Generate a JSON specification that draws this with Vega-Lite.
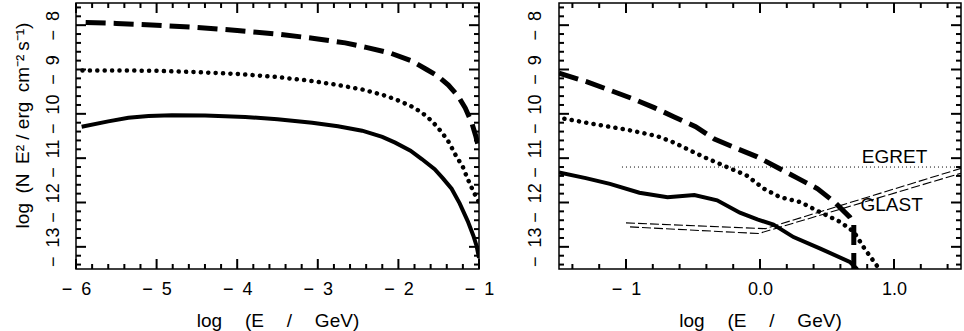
{
  "$schema": "https://vega.github.io/schema/vega-lite/v6.json",
  "padding": {"left": 12, "top": 1, "right": 0, "bottom": 0},
  "autosize": {"type": "pad"},
  "background": "white",
  "config": {
    "view": {"stroke": "black", "strokeWidth": 1.5},
    "axis": {
      "grid": false, "domain": false, "ticks": false,
      "labelFont": "Liberation Sans", "labelFontSize": 18, "labelColor": "black",
      "titleFont": "Liberation Sans", "titleFontSize": 19, "titleFontWeight": "normal", "titleColor": "black",
      "labelFlush": false, "labelOverlap": false
    }
  },
  "datasets": {
    "L": [
      {"s":"dash","i":0,"x":-5.88,"y":-7.94},{"s":"dash","i":1,"x":-5.5,"y":-7.96},{"s":"dash","i":2,"x":-5.0,"y":-8.0},{"s":"dash","i":3,"x":-4.5,"y":-8.05},{"s":"dash","i":4,"x":-4.0,"y":-8.12},{"s":"dash","i":5,"x":-3.5,"y":-8.2},{"s":"dash","i":6,"x":-3.0,"y":-8.31},{"s":"dash","i":7,"x":-2.66,"y":-8.4},{"s":"dash","i":8,"x":-2.4,"y":-8.5},{"s":"dash","i":9,"x":-2.1,"y":-8.63},{"s":"dash","i":10,"x":-1.83,"y":-8.81},{"s":"dash","i":11,"x":-1.65,"y":-9.0},{"s":"dash","i":12,"x":-1.51,"y":-9.15},{"s":"dash","i":13,"x":-1.38,"y":-9.35},{"s":"dash","i":14,"x":-1.26,"y":-9.6},{"s":"dash","i":15,"x":-1.17,"y":-9.87},{"s":"dash","i":16,"x":-1.09,"y":-10.2},{"s":"dash","i":17,"x":-1.04,"y":-10.5},{"s":"dash","i":18,"x":-1.0,"y":-10.8},
      {"s":"dot","i":0,"x":-5.92,"y":-9.02},{"s":"dot","i":1,"x":-5.5,"y":-9.02},{"s":"dot","i":2,"x":-5.0,"y":-9.03},{"s":"dot","i":3,"x":-4.5,"y":-9.06},{"s":"dot","i":4,"x":-4.0,"y":-9.1},{"s":"dot","i":5,"x":-3.5,"y":-9.17},{"s":"dot","i":6,"x":-3.07,"y":-9.26},{"s":"dot","i":7,"x":-2.75,"y":-9.35},{"s":"dot","i":8,"x":-2.45,"y":-9.45},{"s":"dot","i":9,"x":-2.2,"y":-9.57},{"s":"dot","i":10,"x":-2.04,"y":-9.67},{"s":"dot","i":11,"x":-1.85,"y":-9.82},{"s":"dot","i":12,"x":-1.71,"y":-9.97},{"s":"dot","i":13,"x":-1.58,"y":-10.17},{"s":"dot","i":14,"x":-1.46,"y":-10.42},{"s":"dot","i":15,"x":-1.37,"y":-10.65},{"s":"dot","i":16,"x":-1.3,"y":-10.9},{"s":"dot","i":17,"x":-1.2,"y":-11.2},{"s":"dot","i":18,"x":-1.14,"y":-11.47},{"s":"dot","i":19,"x":-1.07,"y":-11.75},{"s":"dot","i":20,"x":-1.0,"y":-12.0},
      {"s":"solid","i":0,"x":-5.93,"y":-10.29},{"s":"solid","i":1,"x":-5.6,"y":-10.17},{"s":"solid","i":2,"x":-5.35,"y":-10.09},{"s":"solid","i":3,"x":-5.1,"y":-10.05},{"s":"solid","i":4,"x":-4.81,"y":-10.03},{"s":"solid","i":5,"x":-4.4,"y":-10.04},{"s":"solid","i":6,"x":-3.9,"y":-10.07},{"s":"solid","i":7,"x":-3.5,"y":-10.12},{"s":"solid","i":8,"x":-3.07,"y":-10.2},{"s":"solid","i":9,"x":-2.75,"y":-10.28},{"s":"solid","i":10,"x":-2.45,"y":-10.38},{"s":"solid","i":11,"x":-2.2,"y":-10.52},{"s":"solid","i":12,"x":-2.04,"y":-10.65},{"s":"solid","i":13,"x":-1.85,"y":-10.83},{"s":"solid","i":14,"x":-1.71,"y":-11.02},{"s":"solid","i":15,"x":-1.55,"y":-11.25},{"s":"solid","i":16,"x":-1.45,"y":-11.45},{"s":"solid","i":17,"x":-1.34,"y":-11.69},{"s":"solid","i":18,"x":-1.24,"y":-12.02},{"s":"solid","i":19,"x":-1.14,"y":-12.42},{"s":"solid","i":20,"x":-1.07,"y":-12.75},{"s":"solid","i":21,"x":-1.03,"y":-12.98},{"s":"solid","i":22,"x":-1.0,"y":-13.25}
    ],
    "R": [
      {"s":"dash","i":0,"x":-1.5,"y":-9.08},{"s":"dash","i":1,"x":-1.29,"y":-9.28},{"s":"dash","i":2,"x":-1.1,"y":-9.49},{"s":"dash","i":3,"x":-0.94,"y":-9.67},{"s":"dash","i":4,"x":-0.79,"y":-9.86},{"s":"dash","i":5,"x":-0.64,"y":-10.07},{"s":"dash","i":6,"x":-0.48,"y":-10.29},{"s":"dash","i":7,"x":-0.34,"y":-10.57},{"s":"dash","i":8,"x":-0.19,"y":-10.76},{"s":"dash","i":9,"x":-0.02,"y":-10.97},{"s":"dash","i":10,"x":0.13,"y":-11.21},{"s":"dash","i":11,"x":0.28,"y":-11.45},{"s":"dash","i":12,"x":0.43,"y":-11.69},{"s":"dash","i":13,"x":0.56,"y":-12.0},{"s":"dash","i":14,"x":0.67,"y":-12.33},{"s":"dash","i":15,"x":0.7,"y":-12.5},{"s":"dash","i":16,"x":0.7,"y":-13.6},
      {"s":"dot","i":0,"x":-1.46,"y":-10.11},{"s":"dot","i":1,"x":-1.24,"y":-10.23},{"s":"dot","i":2,"x":-0.99,"y":-10.36},{"s":"dot","i":3,"x":-0.77,"y":-10.5},{"s":"dot","i":4,"x":-0.64,"y":-10.65},{"s":"dot","i":5,"x":-0.52,"y":-10.83},{"s":"dot","i":6,"x":-0.4,"y":-11.0},{"s":"dot","i":7,"x":-0.27,"y":-11.17},{"s":"dot","i":8,"x":-0.1,"y":-11.39},{"s":"dot","i":9,"x":0.03,"y":-11.69},{"s":"dot","i":10,"x":0.15,"y":-11.88},{"s":"dot","i":11,"x":0.3,"y":-11.99},{"s":"dot","i":12,"x":0.45,"y":-12.22},{"s":"dot","i":13,"x":0.6,"y":-12.44},{"s":"dot","i":14,"x":0.7,"y":-12.66},{"s":"dot","i":15,"x":0.78,"y":-13.04},{"s":"dot","i":16,"x":0.89,"y":-13.5},{"s":"dot","i":17,"x":0.92,"y":-13.6},
      {"s":"solid","i":0,"x":-1.5,"y":-11.32},{"s":"solid","i":1,"x":-1.3,"y":-11.45},{"s":"solid","i":2,"x":-1.12,"y":-11.58},{"s":"solid","i":3,"x":-0.9,"y":-11.78},{"s":"solid","i":4,"x":-0.69,"y":-11.88},{"s":"solid","i":5,"x":-0.49,"y":-11.83},{"s":"solid","i":6,"x":-0.32,"y":-11.95},{"s":"solid","i":7,"x":-0.15,"y":-12.23},{"s":"solid","i":8,"x":-0.02,"y":-12.38},{"s":"solid","i":9,"x":0.1,"y":-12.5},{"s":"solid","i":10,"x":0.25,"y":-12.78},{"s":"solid","i":11,"x":0.45,"y":-13.04},{"s":"solid","i":12,"x":0.67,"y":-13.34},{"s":"solid","i":13,"x":0.72,"y":-13.49},{"s":"solid","i":14,"x":0.74,"y":-13.6},
      {"s":"egret","i":0,"x":-1.03,"y":-11.2},{"s":"egret","i":1,"x":1.5,"y":-11.2},
      {"s":"glast1","i":0,"x":-1.0,"y":-12.46},{"s":"glast1","i":1,"x":0.04,"y":-12.59},{"s":"glast1","i":2,"x":1.5,"y":-11.23},
      {"s":"glast2","i":0,"x":-0.97,"y":-12.55},{"s":"glast2","i":1,"x":-0.01,"y":-12.7},{"s":"glast2","i":2,"x":1.5,"y":-11.34}
    ],
    "T": [
      {"label":"EGRET","x":0.76,"y":-11.12},
      {"label":"GLAST","x":0.75,"y":-12.19}
    ],
    "TLX": [
      {"v":-6,"k":"major"},{"v":-5.8,"k":"minor"},{"v":-5.6,"k":"minor"},{"v":-5.4,"k":"minor"},{"v":-5.2,"k":"minor"},
      {"v":-5,"k":"major"},{"v":-4.8,"k":"minor"},{"v":-4.6,"k":"minor"},{"v":-4.4,"k":"minor"},{"v":-4.2,"k":"minor"},
      {"v":-4,"k":"major"},{"v":-3.8,"k":"minor"},{"v":-3.6,"k":"minor"},{"v":-3.4,"k":"minor"},{"v":-3.2,"k":"minor"},
      {"v":-3,"k":"major"},{"v":-2.8,"k":"minor"},{"v":-2.6,"k":"minor"},{"v":-2.4,"k":"minor"},{"v":-2.2,"k":"minor"},
      {"v":-2,"k":"major"},{"v":-1.8,"k":"minor"},{"v":-1.6,"k":"minor"},{"v":-1.4,"k":"minor"},{"v":-1.2,"k":"minor"},
      {"v":-1,"k":"major"}
    ],
    "TRX": [
      {"v":-1.4,"k":"minor"},{"v":-1.2,"k":"minor"},{"v":-1,"k":"major"},{"v":-0.8,"k":"minor"},{"v":-0.6,"k":"minor"},{"v":-0.4,"k":"minor"},{"v":-0.2,"k":"minor"},
      {"v":0,"k":"major"},{"v":0.2,"k":"minor"},{"v":0.4,"k":"minor"},{"v":0.6,"k":"minor"},{"v":0.8,"k":"minor"},
      {"v":1,"k":"major"},{"v":1.2,"k":"minor"},{"v":1.4,"k":"minor"}
    ],
    "TY": [
      {"v":-13.4,"k":"minor"},{"v":-13.2,"k":"minor"},{"v":-13,"k":"major"},{"v":-12.8,"k":"minor"},{"v":-12.6,"k":"minor"},{"v":-12.4,"k":"minor"},{"v":-12.2,"k":"minor"},
      {"v":-12,"k":"major"},{"v":-11.8,"k":"minor"},{"v":-11.6,"k":"minor"},{"v":-11.4,"k":"minor"},{"v":-11.2,"k":"minor"},
      {"v":-11,"k":"major"},{"v":-10.8,"k":"minor"},{"v":-10.6,"k":"minor"},{"v":-10.4,"k":"minor"},{"v":-10.2,"k":"minor"},
      {"v":-10,"k":"major"},{"v":-9.8,"k":"minor"},{"v":-9.6,"k":"minor"},{"v":-9.4,"k":"minor"},{"v":-9.2,"k":"minor"},
      {"v":-9,"k":"major"},{"v":-8.8,"k":"minor"},{"v":-8.6,"k":"minor"},{"v":-8.4,"k":"minor"},{"v":-8.2,"k":"minor"},
      {"v":-8,"k":"major"},{"v":-7.8,"k":"minor"},{"v":-7.6,"k":"minor"}
    ]
  },
  "spacing": 30,
  "hconcat": [
    {
      "width": 403, "height": 266,
      "layer": [
        {
          "data": {"name": "L"},
          "transform": [{"filter": "datum.s === 'solid'"}],
          "mark": {"type": "line", "color": "black", "strokeWidth": 4, "clip": true},
          "encoding": {
            "x": {"field": "x", "type": "quantitative", "scale": {"domain": [-6, -1], "nice": false, "zero": false},
                  "axis": {"orient": "bottom", "values": [-6,-5,-4,-3,-2,-1], "labelPadding": 11, "labelExpr": "datum.value < 0 ? '\u2212\u2002' + format(-datum.value, 'd') : datum.label", "title": "log\u2003\u2009(E\u2003\u2009/\u2003\u2009GeV)", "titlePadding": 13}},
            "y": {"field": "y", "type": "quantitative", "scale": {"domain": [-13.5, -7.5], "nice": false, "zero": false},
                  "axis": {"orient": "left", "values": [-13,-12,-11,-10,-9,-8], "labelPadding": 14, "labelAngle": -90, "labelAlign": "center", "labelBaseline": "bottom", "labelExpr": "datum.value < 0 ? '\u2212\u2002' + format(-datum.value, 'd') : datum.label", "title": "log\u2002(N\u2002E² / erg\u2002cm⁻²\u2009s⁻¹)", "titlePadding": 12, "titleY": 122}},
            "order": {"field": "i", "type": "quantitative"}
          }
        },
        {
          "data": {"name": "L"},
          "transform": [{"filter": "datum.s === 'dot'"}],
          "mark": {"type": "line", "color": "black", "strokeWidth": 4.5, "strokeDash": [0.1, 7.3], "strokeCap": "round", "clip": true},
          "encoding": {
            "x": {"field": "x", "type": "quantitative"},
            "y": {"field": "y", "type": "quantitative"},
            "order": {"field": "i", "type": "quantitative"}
          }
        },
        {
          "data": {"name": "L"},
          "transform": [{"filter": "datum.s === 'dash'"}],
          "mark": {"type": "line", "color": "black", "strokeWidth": 5, "strokeDash": [20, 8], "clip": true},
          "encoding": {
            "x": {"field": "x", "type": "quantitative"},
            "y": {"field": "y", "type": "quantitative"},
            "order": {"field": "i", "type": "quantitative"}
          }
        },
        {"data": {"name": "TLX"}, "transform": [{"filter": "datum.k === 'major'"}], "mark": {"type": "rule", "color": "black", "strokeWidth": 2},
         "encoding": {"x": {"field": "v", "type": "quantitative"}, "y": {"datum": -13.5, "type": "quantitative"}, "y2": {"datum": -13.274}}},
        {"data": {"name": "TLX"}, "transform": [{"filter": "datum.k === 'minor'"}], "mark": {"type": "rule", "color": "black", "strokeWidth": 2},
         "encoding": {"x": {"field": "v", "type": "quantitative"}, "y": {"datum": -13.5, "type": "quantitative"}, "y2": {"datum": -13.387}}},
        {"data": {"name": "TLX"}, "transform": [{"filter": "datum.k === 'major'"}], "mark": {"type": "rule", "color": "black", "strokeWidth": 2},
         "encoding": {"x": {"field": "v", "type": "quantitative"}, "y": {"datum": -7.5, "type": "quantitative"}, "y2": {"datum": -7.726}}},
        {"data": {"name": "TLX"}, "transform": [{"filter": "datum.k === 'minor'"}], "mark": {"type": "rule", "color": "black", "strokeWidth": 2},
         "encoding": {"x": {"field": "v", "type": "quantitative"}, "y": {"datum": -7.5, "type": "quantitative"}, "y2": {"datum": -7.613}}},
        {"data": {"name": "TY"}, "transform": [{"filter": "datum.k === 'major'"}], "mark": {"type": "rule", "color": "black", "strokeWidth": 2},
         "encoding": {"y": {"field": "v", "type": "quantitative"}, "x": {"datum": -6, "type": "quantitative"}, "x2": {"datum": -5.876}}},
        {"data": {"name": "TY"}, "transform": [{"filter": "datum.k === 'minor'"}], "mark": {"type": "rule", "color": "black", "strokeWidth": 2},
         "encoding": {"y": {"field": "v", "type": "quantitative"}, "x": {"datum": -6, "type": "quantitative"}, "x2": {"datum": -5.938}}},
        {"data": {"name": "TY"}, "transform": [{"filter": "datum.k === 'major'"}], "mark": {"type": "rule", "color": "black", "strokeWidth": 2},
         "encoding": {"y": {"field": "v", "type": "quantitative"}, "x": {"datum": -1, "type": "quantitative"}, "x2": {"datum": -1.124}}},
        {"data": {"name": "TY"}, "transform": [{"filter": "datum.k === 'minor'"}], "mark": {"type": "rule", "color": "black", "strokeWidth": 2},
         "encoding": {"y": {"field": "v", "type": "quantitative"}, "x": {"datum": -1, "type": "quantitative"}, "x2": {"datum": -1.062}}}
      ]
    },
    {
      "width": 402, "height": 266,
      "layer": [
        {
          "data": {"name": "R"},
          "transform": [{"filter": "datum.s === 'solid'"}],
          "mark": {"type": "line", "color": "black", "strokeWidth": 4, "clip": true},
          "encoding": {
            "x": {"field": "x", "type": "quantitative", "scale": {"domain": [-1.5, 1.5], "nice": false, "zero": false},
                  "axis": {"orient": "bottom", "values": [-1,0,1], "labelPadding": 11, "labelExpr": "datum.value < 0 ? '\u2212\u2002' + format(-datum.value, 'd') : datum.label", "title": "log\u2003\u2009(E\u2003\u2009/\u2003\u2009GeV)", "titlePadding": 13}},
            "y": {"field": "y", "type": "quantitative", "scale": {"domain": [-13.5, -7.5], "nice": false, "zero": false},
                  "axis": {"orient": "left", "values": [-13,-12,-11,-10,-9,-8], "labelPadding": 15, "labelAngle": -90, "labelAlign": "center", "labelBaseline": "bottom", "labelExpr": "datum.value < 0 ? '\u2212\u2002' + format(-datum.value, 'd') : datum.label", "title": null}},
            "order": {"field": "i", "type": "quantitative"}
          }
        },
        {
          "data": {"name": "R"},
          "transform": [{"filter": "datum.s === 'dot'"}],
          "mark": {"type": "line", "color": "black", "strokeWidth": 4.5, "strokeDash": [0.1, 7.3], "strokeCap": "round", "clip": true},
          "encoding": {
            "x": {"field": "x", "type": "quantitative"},
            "y": {"field": "y", "type": "quantitative"},
            "order": {"field": "i", "type": "quantitative"}
          }
        },
        {
          "data": {"name": "R"},
          "transform": [{"filter": "datum.s === 'dash'"}],
          "mark": {"type": "line", "color": "black", "strokeWidth": 5, "strokeDash": [20, 8], "clip": true},
          "encoding": {
            "x": {"field": "x", "type": "quantitative"},
            "y": {"field": "y", "type": "quantitative"},
            "order": {"field": "i", "type": "quantitative"}
          }
        },
        {
          "data": {"name": "R"},
          "transform": [{"filter": "datum.s === 'egret'"}],
          "mark": {"type": "line", "color": "black", "strokeWidth": 1, "strokeDash": [1, 3], "clip": true},
          "encoding": {
            "x": {"field": "x", "type": "quantitative"},
            "y": {"field": "y", "type": "quantitative"},
            "order": {"field": "i", "type": "quantitative"}
          }
        },
        {
          "data": {"name": "R"},
          "transform": [{"filter": "datum.s === 'glast1' || datum.s === 'glast2'"}],
          "mark": {"type": "line", "color": "black", "strokeWidth": 1.1, "strokeDash": [9, 3], "clip": true},
          "encoding": {
            "x": {"field": "x", "type": "quantitative"},
            "y": {"field": "y", "type": "quantitative"},
            "detail": {"field": "s"},
            "order": {"field": "i", "type": "quantitative"}
          }
        },
        {
          "data": {"name": "T"},
          "mark": {"type": "text", "font": "Liberation Sans", "fontSize": 19, "align": "left", "baseline": "alphabetic", "color": "black"},
          "encoding": {
            "x": {"field": "x", "type": "quantitative"},
            "y": {"field": "y", "type": "quantitative"},
            "text": {"field": "label"}
          }
        },
        {"data": {"name": "TRX"}, "transform": [{"filter": "datum.k === 'major'"}], "mark": {"type": "rule", "color": "black", "strokeWidth": 2},
         "encoding": {"x": {"field": "v", "type": "quantitative"}, "y": {"datum": -13.5, "type": "quantitative"}, "y2": {"datum": -13.274}}},
        {"data": {"name": "TRX"}, "transform": [{"filter": "datum.k === 'minor'"}], "mark": {"type": "rule", "color": "black", "strokeWidth": 2},
         "encoding": {"x": {"field": "v", "type": "quantitative"}, "y": {"datum": -13.5, "type": "quantitative"}, "y2": {"datum": -13.387}}},
        {"data": {"name": "TRX"}, "transform": [{"filter": "datum.k === 'major'"}], "mark": {"type": "rule", "color": "black", "strokeWidth": 2},
         "encoding": {"x": {"field": "v", "type": "quantitative"}, "y": {"datum": -7.5, "type": "quantitative"}, "y2": {"datum": -7.726}}},
        {"data": {"name": "TRX"}, "transform": [{"filter": "datum.k === 'minor'"}], "mark": {"type": "rule", "color": "black", "strokeWidth": 2},
         "encoding": {"x": {"field": "v", "type": "quantitative"}, "y": {"datum": -7.5, "type": "quantitative"}, "y2": {"datum": -7.613}}},
        {"data": {"name": "TY"}, "transform": [{"filter": "datum.k === 'major'"}], "mark": {"type": "rule", "color": "black", "strokeWidth": 2},
         "encoding": {"y": {"field": "v", "type": "quantitative"}, "x": {"datum": -1.5, "type": "quantitative"}, "x2": {"datum": -1.4254}}},
        {"data": {"name": "TY"}, "transform": [{"filter": "datum.k === 'minor'"}], "mark": {"type": "rule", "color": "black", "strokeWidth": 2},
         "encoding": {"y": {"field": "v", "type": "quantitative"}, "x": {"datum": -1.5, "type": "quantitative"}, "x2": {"datum": -1.4627}}},
        {"data": {"name": "TY"}, "transform": [{"filter": "datum.k === 'major'"}], "mark": {"type": "rule", "color": "black", "strokeWidth": 2},
         "encoding": {"y": {"field": "v", "type": "quantitative"}, "x": {"datum": 1.5, "type": "quantitative"}, "x2": {"datum": 1.4254}}},
        {"data": {"name": "TY"}, "transform": [{"filter": "datum.k === 'minor'"}], "mark": {"type": "rule", "color": "black", "strokeWidth": 2},
         "encoding": {"y": {"field": "v", "type": "quantitative"}, "x": {"datum": 1.5, "type": "quantitative"}, "x2": {"datum": 1.4627}}}
      ]
    }
  ]
}
